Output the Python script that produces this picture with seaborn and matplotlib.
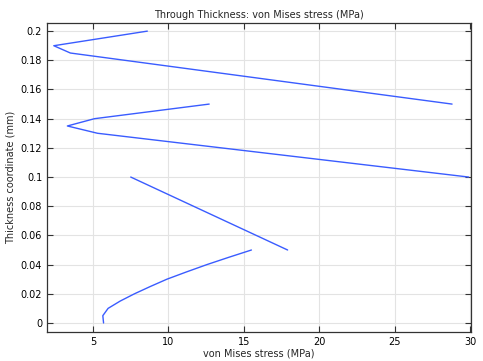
import numpy as np
import pandas as pd
import matplotlib
matplotlib.use("Agg")
import matplotlib.pyplot as plt
import seaborn as sns

# Layer data: thickness coordinate (mm) and von Mises stress (MPa)
layer1_z = [0.0, 0.005, 0.01, 0.015, 0.02, 0.025, 0.03, 0.035, 0.04, 0.045, 0.05]
layer1_s = [5.7, 5.65, 6.0, 6.8, 7.75, 8.8, 9.9, 11.2, 12.55, 14.0, 15.5]
layer2_z = [0.05, 0.1]
layer2_s = [17.9, 7.5]
layer3_z = [0.1, 0.13, 0.135, 0.14, 0.15]
layer3_s = [29.9, 5.3, 3.3, 5.1, 12.7]
layer4_z = [0.15, 0.185, 0.19, 0.195, 0.2]
layer4_s = [28.8, 3.5, 2.4, 5.5, 8.6]

x_ticks = [5, 10, 15, 20, 25, 30]
y_ticks = [0, 0.02, 0.04, 0.06, 0.08, 0.1, 0.12, 0.14, 0.16, 0.18, 0.2]
y_labels = ["0", "0.02", "0.04", "0.06", "0.08", "0.1", "0.12", "0.14", "0.16", "0.18", "0.2"]

frames = []
for i, (z, s) in enumerate([(layer1_z, layer1_s), (layer2_z, layer2_s),
                            (layer3_z, layer3_s), (layer4_z, layer4_s)]):
    frames.append(pd.DataFrame({"stress": s, "z": z, "layer": i, "order": range(len(z))}))
df = pd.concat(frames, ignore_index=True)

sns.set_style("white")
plt.rcParams["font.family"] = ["DejaVu Sans"]

fig = plt.figure(figsize=(4.83, 3.61), dpi=100)
ax = fig.add_axes([0.0973, 0.0803, 0.8777, 0.8557])

sns.lineplot(data=df, x="stress", y="z", units="layer", estimator=None, sort=False,
             color="#3a5cff", linewidth=1.0, ax=ax, legend=False)

ax.set_xlim(1.95, 30.05)
ax.set_ylim(-0.0062, 0.2055)
ax.set_xticks(x_ticks)
ax.set_xticklabels([str(t) for t in x_ticks])
ax.set_yticks(y_ticks)
ax.set_yticklabels(y_labels)
ax.grid(True, color="#e3e3e3", linewidth=0.8)
ax.set_axisbelow(True)
ax.tick_params(direction="in", length=4, width=0.8, labelsize=7, colors="#333333",
               top=True, right=True, bottom=True, left=True, labelcolor="black")
for sp in ax.spines.values():
    sp.set_color("#333333")
    sp.set_linewidth(0.9)
ax.set_xlabel("von Mises stress (MPa)", fontsize=7, labelpad=1)
ax.set_ylabel("Thickness coordinate (mm)", fontsize=7, labelpad=4)
ax.set_title("Through Thickness: von Mises stress (MPa)", fontsize=7, pad=4)

fig.savefig("out.png", dpi=100)
